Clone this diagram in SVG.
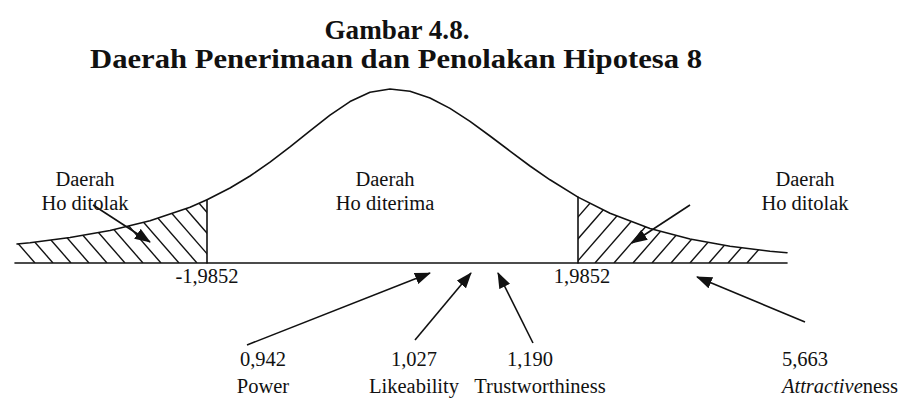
<svg xmlns="http://www.w3.org/2000/svg" width="915" height="402" viewBox="0 0 915 402">
<style>
.t{font-family:"Liberation Serif","Times New Roman",serif;font-size:20.5px;fill:#111;text-anchor:middle}
.h{font-family:"Liberation Serif","Times New Roman",serif;font-weight:bold;fill:#111;text-anchor:middle}
.ln{fill:none;stroke:#111;stroke-width:1.6;stroke-linejoin:round;stroke-linecap:round}
.hatch{stroke:#111;stroke-width:1.4}
.arr{fill:none;stroke:#111;stroke-width:1.6;marker-end:url(#ah)}
</style>
<defs>
<marker id="ah" viewBox="0 0 16 12" refX="15" refY="6" markerWidth="16" markerHeight="12" markerUnits="userSpaceOnUse" orient="auto">
<path d="M0,0 L16,6 L0,12 Z" fill="#111"/>
</marker>
<clipPath id="cl"><path d="M15,263 L17,244 L30,242.7 L70,237.5 L110,230.5 L150,220.8 L190,207.2 L207,199.8 L207,263 Z"/></clipPath>
<clipPath id="cr"><path d="M578,263 L578,197.1 L610,213.2 L650,228.4 L690,239 L730,246.3 L770,251.2 L787,252.8 L787,263 Z"/></clipPath>
</defs>
<rect width="915" height="402" fill="#fff"/>
<g id="title">
<text class="h" x="397" y="39" font-size="28" textLength="145" lengthAdjust="spacingAndGlyphs">Gambar 4.8.</text>
<text class="h" x="396" y="68" font-size="28" textLength="612" lengthAdjust="spacingAndGlyphs">Daerah Penerimaan dan Penolakan Hipotesa 8</text>
</g>
<g id="curve">
<path class="ln" d="M17,244 L30,242.7 L70,237.5 L110,230.5 L150,220.8 L190,207.2 L207,199.8 L230,188 L250,176 L270,162.2 L290,146.9 L310,130.8 L330,115.1 L350,101.6 L370,92.3 L390,89 L410,91.3 L430,98 L450,108.4 L470,121.4 L490,136 L510,151.1 L530,166 L550,179.8 L578,197.1 L610,213.2 L650,228.4 L690,239 L730,246.3 L770,251.2 L787,252.8"/>
<line class="ln" x1="15" y1="263" x2="787" y2="263"/>
<line class="ln" x1="207" y1="199.8" x2="207" y2="263"/>
<line class="ln" x1="578" y1="197.1" x2="578" y2="263"/>
</g>
<g id="hatch-left" clip-path="url(#cl)" class="hatch">
<line x1="-52" y1="163" x2="35" y2="263"/>
<line x1="-34" y1="163" x2="53" y2="263"/>
<line x1="-16" y1="163" x2="71" y2="263"/>
<line x1="2" y1="163" x2="89" y2="263"/>
<line x1="20" y1="163" x2="107" y2="263"/>
<line x1="38" y1="163" x2="125" y2="263"/>
<line x1="56" y1="163" x2="143" y2="263"/>
<line x1="74" y1="163" x2="161" y2="263"/>
<line x1="92" y1="163" x2="179" y2="263"/>
<line x1="110" y1="163" x2="197" y2="263"/>
<line x1="128" y1="163" x2="215" y2="263"/>
<line x1="146" y1="163" x2="233" y2="263"/>
<line x1="164" y1="163" x2="251" y2="263"/>
</g>
<g id="hatch-right" clip-path="url(#cr)" class="hatch">
<line x1="538" y1="263" x2="625" y2="163"/>
<line x1="557" y1="263" x2="644" y2="163"/>
<line x1="576" y1="263" x2="663" y2="163"/>
<line x1="595" y1="263" x2="682" y2="163"/>
<line x1="614" y1="263" x2="701" y2="163"/>
<line x1="633" y1="263" x2="720" y2="163"/>
<line x1="652" y1="263" x2="739" y2="163"/>
<line x1="671" y1="263" x2="758" y2="163"/>
<line x1="690" y1="263" x2="777" y2="163"/>
<line x1="709" y1="263" x2="796" y2="163"/>
<line x1="728" y1="263" x2="815" y2="163"/>
<line x1="747" y1="263" x2="834" y2="163"/>
</g>
<g id="connectors">
<line class="arr" x1="93" y1="205" x2="150" y2="242"/>
<line class="arr" x1="690" y1="205" x2="632" y2="243"/>
<line class="arr" x1="247" y1="345" x2="430" y2="273"/>
<line class="arr" x1="415" y1="340" x2="471" y2="273"/>
<line class="arr" x1="533" y1="343" x2="498" y2="273"/>
<line class="arr" x1="805" y1="322" x2="697" y2="277"/>
</g>
<g id="label-left">
<text class="t" x="85" y="186">Daerah</text>
<text class="t" x="85" y="210">Ho ditolak</text>
</g>
<g id="label-center">
<text class="t" x="385" y="186">Daerah</text>
<text class="t" x="385" y="210">Ho diterima</text>
</g>
<g id="label-right">
<text class="t" x="805" y="186">Daerah</text>
<text class="t" x="805" y="210">Ho ditolak</text>
</g>
<g id="crit">
<text class="t" x="207" y="283">-1,9852</text>
<text class="t" x="582" y="283">1,9852</text>
</g>
<g id="val-power">
<text class="t" x="263" y="366">0,942</text>
<text class="t" x="263" y="393">Power</text>
</g>
<g id="val-like">
<text class="t" x="414" y="366">1,027</text>
<text class="t" x="414" y="393">Likeability</text>
</g>
<g id="val-trust">
<text class="t" x="530" y="366">1,190</text>
<text class="t" x="540" y="393">Trustworthiness</text>
</g>
<g id="val-attr">
<text class="t" x="805" y="366">5,663</text>
<text class="t" x="840" y="393"><tspan font-style="italic">Attractive</tspan>ness</text>
</g>
</svg>
